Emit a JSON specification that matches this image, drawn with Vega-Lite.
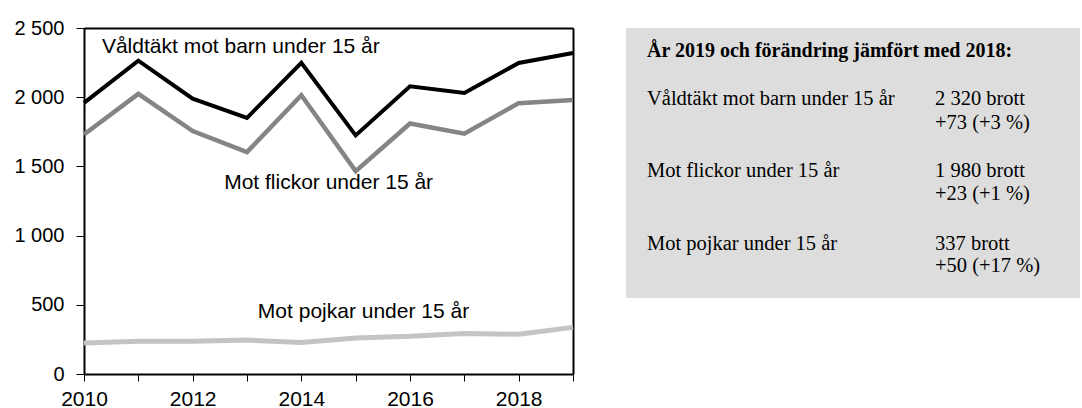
{
  "$schema": "https://vega.github.io/schema/vega-lite/v6.json",
  "padding": {"left": 13, "top": 18, "right": 0, "bottom": 0},
  "bounds": "flush",
  "spacing": 53,
  "background": "white",
  "config": {"view": {"stroke": null}},
  "datasets": {
    "series": [
      {"year": 2010, "serie": "Våldtäkt mot barn under 15 år", "value": 1959},
      {"year": 2011, "serie": "Våldtäkt mot barn under 15 år", "value": 2264},
      {"year": 2012, "serie": "Våldtäkt mot barn under 15 år", "value": 1990},
      {"year": 2013, "serie": "Våldtäkt mot barn under 15 år", "value": 1851},
      {"year": 2014, "serie": "Våldtäkt mot barn under 15 år", "value": 2248},
      {"year": 2015, "serie": "Våldtäkt mot barn under 15 år", "value": 1724},
      {"year": 2016, "serie": "Våldtäkt mot barn under 15 år", "value": 2079},
      {"year": 2017, "serie": "Våldtäkt mot barn under 15 år", "value": 2031},
      {"year": 2018, "serie": "Våldtäkt mot barn under 15 år", "value": 2247},
      {"year": 2019, "serie": "Våldtäkt mot barn under 15 år", "value": 2320},
      {"year": 2010, "serie": "Mot flickor under 15 år", "value": 1731},
      {"year": 2011, "serie": "Mot flickor under 15 år", "value": 2024},
      {"year": 2012, "serie": "Mot flickor under 15 år", "value": 1755},
      {"year": 2013, "serie": "Mot flickor under 15 år", "value": 1603},
      {"year": 2014, "serie": "Mot flickor under 15 år", "value": 2014},
      {"year": 2015, "serie": "Mot flickor under 15 år", "value": 1466},
      {"year": 2016, "serie": "Mot flickor under 15 år", "value": 1810},
      {"year": 2017, "serie": "Mot flickor under 15 år", "value": 1736},
      {"year": 2018, "serie": "Mot flickor under 15 år", "value": 1957},
      {"year": 2019, "serie": "Mot flickor under 15 år", "value": 1980},
      {"year": 2010, "serie": "Mot pojkar under 15 år", "value": 224},
      {"year": 2011, "serie": "Mot pojkar under 15 år", "value": 236},
      {"year": 2012, "serie": "Mot pojkar under 15 år", "value": 236},
      {"year": 2013, "serie": "Mot pojkar under 15 år", "value": 245},
      {"year": 2014, "serie": "Mot pojkar under 15 år", "value": 228},
      {"year": 2015, "serie": "Mot pojkar under 15 år", "value": 260},
      {"year": 2016, "serie": "Mot pojkar under 15 år", "value": 272},
      {"year": 2017, "serie": "Mot pojkar under 15 år", "value": 293},
      {"year": 2018, "serie": "Mot pojkar under 15 år", "value": 287},
      {"year": 2019, "serie": "Mot pojkar under 15 år", "value": 337}
    ],
    "labels": [
      {"year": 2010.33, "value": 2319, "label": "Våldtäkt mot barn under 15 år"},
      {"year": 2012.58, "value": 1337, "label": "Mot flickor under 15 år"},
      {"year": 2013.2, "value": 405, "label": "Mot pojkar under 15 år"}
    ],
    "boxtitle": [
      {"col": 21, "line": 29, "text": "År 2019 och förändring jämfört med 2018:"}
    ],
    "box": [
      {"col": 21, "line": 77, "text": "Våldtäkt mot barn under 15 år"},
      {"col": 309, "line": 77, "text": "2 320 brott"},
      {"col": 309, "line": 101, "text": "+73 (+3 %)"},
      {"col": 21, "line": 149, "text": "Mot flickor under 15 år"},
      {"col": 309, "line": 149, "text": "1 980 brott"},
      {"col": 309, "line": 172, "text": "+23 (+1 %)"},
      {"col": 21, "line": 222, "text": "Mot pojkar under 15 år"},
      {"col": 309, "line": 222, "text": "337 brott"},
      {"col": 309, "line": 244, "text": "+50 (+17 %)"}
    ]
  },
  "hconcat": [
    {
      "width": 489,
      "height": 346,
      "resolve": {"axis": {"x": "independent", "y": "independent"}},
      "layer": [
        {
          "data": {"name": "series"},
          "mark": {"type": "line", "strokeJoin": "miter", "strokeCap": "butt"},
          "encoding": {
            "x": {
              "field": "year", "type": "quantitative",
              "scale": {"domain": [2010, 2019], "nice": false, "zero": false},
              "axis": {
                "values": [2010, 2011, 2012, 2013, 2014, 2015, 2016, 2017, 2018, 2019],
                "labelExpr": "datum.value % 2 == 0 ? format(datum.value, 'd') : ''",
                "grid": false, "domain": true, "domainColor": "black", "domainWidth": 2,
                "ticks": true, "tickSize": 7,
                "tickColor": "black", "tickWidth": 1,
                "labelFont": "Liberation Sans", "labelFontSize": 21, "labelColor": "black",
                "labelPadding": 7, "title": null, "labelFlush": false, "labelOverlap": false
              }
            },
            "y": {
              "field": "value", "type": "quantitative",
              "scale": {"domain": [0, 2500], "nice": false},
              "axis": {
                "values": [0, 500, 1000, 1500, 2000, 2500],
                "labelExpr": "replace(format(datum.value, ','), ',', ' ')",
                "grid": false, "domain": true, "domainColor": "black", "domainWidth": 2,
                "ticks": true, "tickSize": 8,
                "tickColor": "black", "tickWidth": 1,
                "labelFont": "Liberation Sans", "labelFontSize": 20, "labelColor": "black",
                "labelPadding": 12, "title": null, "labelFlush": false, "labelOverlap": false
              }
            },
            "color": {
              "field": "serie", "type": "nominal",
              "scale": {
                "domain": ["Våldtäkt mot barn under 15 år", "Mot flickor under 15 år", "Mot pojkar under 15 år"],
                "range": ["#000000", "#858585", "#c4c4c4"]
              },
              "legend": null
            },
            "strokeWidth": {
              "field": "serie", "type": "nominal",
              "scale": {
                "domain": ["Våldtäkt mot barn under 15 år", "Mot flickor under 15 år", "Mot pojkar under 15 år"],
                "range": [4, 5, 4]
              },
              "legend": null
            }
          }
        },
        {
          "data": {"name": "labels"},
          "mark": {"type": "text", "align": "left", "baseline": "alphabetic", "font": "Liberation Sans", "fontSize": 21, "color": "black"},
          "encoding": {
            "x": {
              "field": "year", "type": "quantitative",
              "axis": {"orient": "top", "labels": false, "ticks": false, "grid": false, "domain": true, "domainColor": "black", "domainWidth": 2, "title": null}
            },
            "y": {
              "field": "value", "type": "quantitative",
              "axis": {"orient": "right", "labels": false, "ticks": false, "grid": false, "domain": true, "domainColor": "black", "domainWidth": 2, "title": null}
            },
            "text": {"field": "label"}
          }
        }
      ]
    },
    {
      "width": 454,
      "height": 270,
      "view": {"fill": "#dddddd", "stroke": null},
      "encoding": {
        "x": {"field": "col", "type": "quantitative", "scale": {"domain": [0, 454], "nice": false}, "axis": null},
        "y": {"field": "line", "type": "quantitative", "scale": {"domain": [0, 270], "reverse": true, "nice": false}, "axis": null},
        "text": {"field": "text"}
      },
      "layer": [
        {
          "data": {"name": "boxtitle"},
          "mark": {"type": "text", "align": "left", "baseline": "alphabetic", "font": "Liberation Serif", "fontSize": 20, "fontWeight": "bold", "color": "black"}
        },
        {
          "data": {"name": "box"},
          "mark": {"type": "text", "align": "left", "baseline": "alphabetic", "font": "Liberation Serif", "fontSize": 20.5, "color": "black"}
        }
      ]
    }
  ]
}
